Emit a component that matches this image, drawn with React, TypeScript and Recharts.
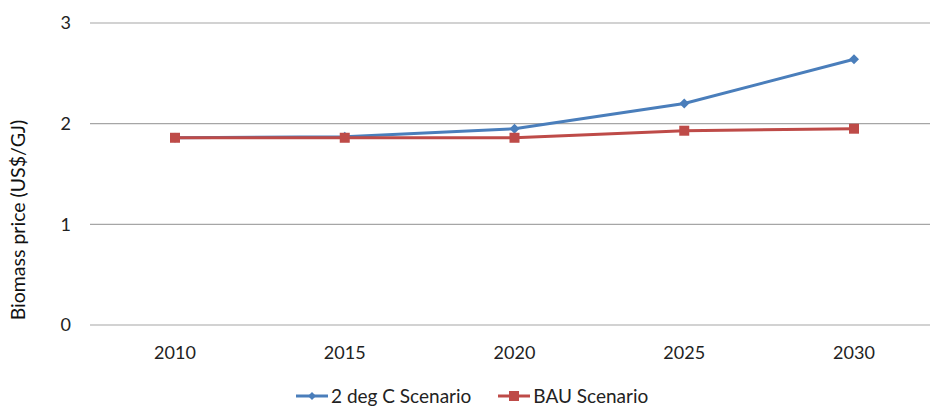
import { LineChart, Line, XAxis, YAxis, CartesianGrid } from 'recharts';

const years = ['2010', '2015', '2020', '2025', '2030'];
const twoDegValues = [1.86, 1.87, 1.95, 2.2, 2.64];
const bauValues = [1.86, 1.86, 1.86, 1.93, 1.95];
const yTicks = [0, 1, 2, 3];

const BLUE = '#4a7ebb';
const RED = '#be4b48';
const FONT = 'Lato, "Open Sans", sans-serif';

const data = years.map((year, i) => ({
  year,
  twoDeg: twoDegValues[i],
  bau: bauValues[i],
}));

const Diamond = (props: any) => {
  const { cx, cy } = props;
  if (cx == null || cy == null) return null;
  const r = 5;
  return (
    <polygon
      points={`${cx},${cy - r} ${cx + r},${cy} ${cx},${cy + r} ${cx - r},${cy}`}
      fill={BLUE}
    />
  );
};

const Square = (props: any) => {
  const { cx, cy } = props;
  if (cx == null || cy == null) return null;
  return <rect x={cx - 5} y={cy - 5} width={10} height={10} fill={RED} />;
};

function LegendItem({ color, label, marker }: { color: string; label: string; marker: 'diamond' | 'square' }) {
  return (
    <div style={{ display: 'flex', alignItems: 'center', gap: 3 }}>
      <svg width={32} height={12}>
        <line x1={0} y1={6} x2={32} y2={6} stroke={color} strokeWidth={3} />
        {marker === 'diamond' ? (
          <polygon points="16,2 20,6 16,10 12,6" fill={color} />
        ) : (
          <rect x={11} y={1} width={10} height={10} fill={color} />
        )}
      </svg>
      <span>{label}</span>
    </div>
  );
}

export default function App() {
  return (
    <div
      style={{
        position: 'absolute',
        left: 0,
        top: 0,
        width: 930,
        height: 407,
        overflow: 'hidden',
        background: '#fff',
        fontFamily: FONT,
      }}
    >
      <LineChart
        width={945}
        height={420}
        data={data}
        margin={{ top: 23, right: 6, left: 0, bottom: 55 }}
      >
        <CartesianGrid vertical={false} stroke="#a6a6a6" strokeWidth={1.2} />
        <XAxis
          dataKey="year"
          axisLine={false}
          tickLine={false}
          tickSize={0}
          tickMargin={21}
          height={40}
          padding={{ left: 85, right: 85 }}
          tick={{ fill: '#222', fontSize: 18, fontFamily: FONT }}
        />
        <YAxis
          domain={[0, 3]}
          ticks={yTicks}
          width={90}
          axisLine={false}
          tickLine={false}
          tickSize={0}
          tickMargin={19}
          tick={{ fill: '#222', fontSize: 18, fontFamily: FONT }}
          label={{
            content: () => (
              <text
                x={20}
                y={220}
                transform="rotate(-90 20 220)"
                textAnchor="middle"
                dominantBaseline="middle"
                fill="#111"
                fontSize={19.5}
                fontFamily={FONT}
              >
                Biomass price (US$/GJ)
              </text>
            ),
          }}
        />
        <Line
          type="linear"
          dataKey="twoDeg"
          stroke={BLUE}
          strokeWidth={3}
          dot={<Diamond />}
          activeDot={false}
          isAnimationActive={false}
        />
        <Line
          type="linear"
          dataKey="bau"
          stroke={RED}
          strokeWidth={3}
          dot={<Square />}
          activeDot={false}
          isAnimationActive={false}
        />
      </LineChart>
      <div
        style={{
          position: 'absolute',
          left: 296,
          top: 385,
          display: 'flex',
          gap: 27,
          fontSize: 19,
          color: '#222',
          lineHeight: '22px',
        }}
      >
        <LegendItem color={BLUE} label="2 deg C Scenario" marker="diamond" />
        <LegendItem color={RED} label="BAU Scenario" marker="square" />
      </div>
    </div>
  );
}
